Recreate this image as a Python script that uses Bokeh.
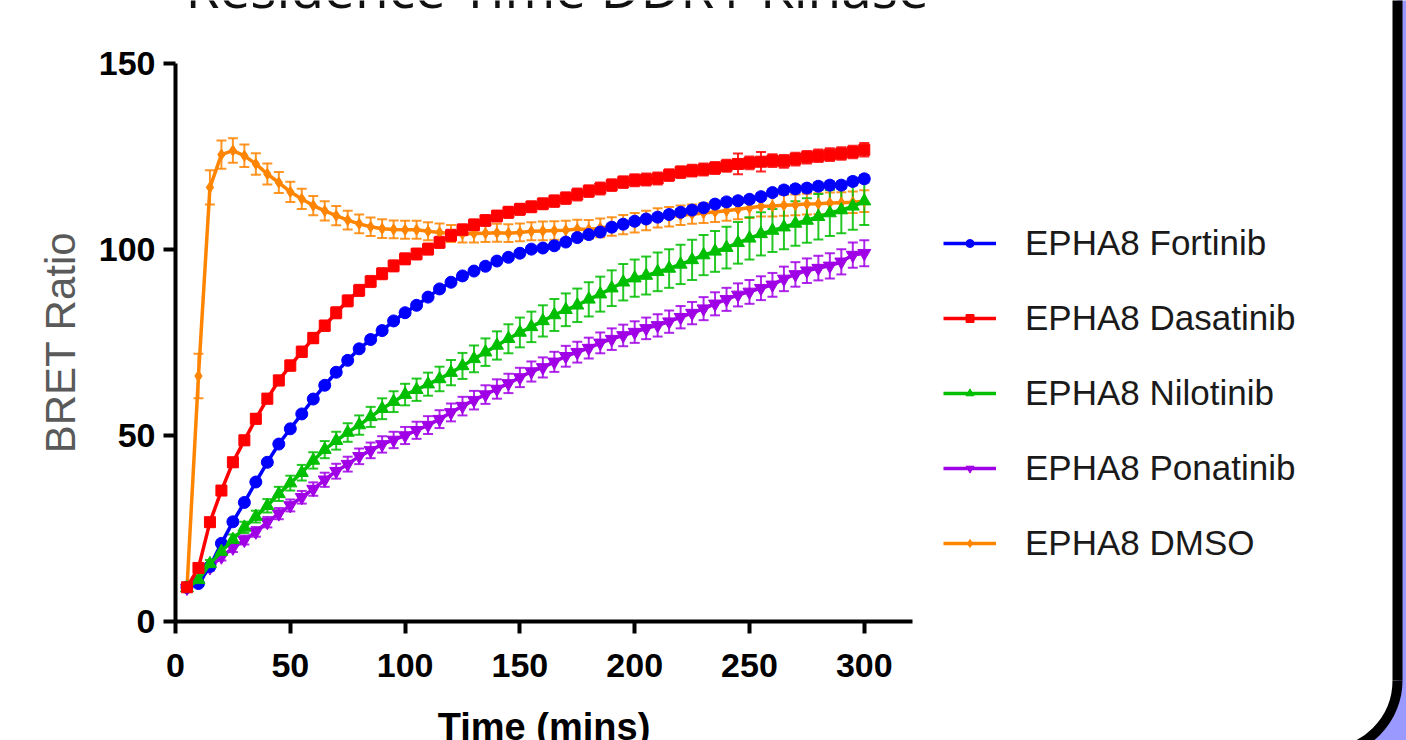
import math
from bokeh.plotting import figure
from bokeh.models import (Range1d, Whisker, TeeHead, ColumnDataSource, Legend,
                          LegendItem, Label, FixedTicker)
from bokeh.embed import file_html
from bokeh.resources import INLINE

title_text = "Residence Time DDR1 Kinase"
x_label = "Time (mins)"
y_label = "BRET Ratio"
x_ticks = [0, 50, 100, 150, 200, 250, 300]
y_ticks = [0, 50, 100, 150]

time_min = [5, 10, 15, 20, 25, 30, 35, 40, 45, 50, 55, 60, 65, 70, 75, 80, 85, 90, 95, 100,
            105, 110, 115, 120, 125, 130, 135, 140, 145, 150, 155, 160, 165, 170, 175, 180,
            185, 190, 195, 200, 205, 210, 215, 220, 225, 230, 235, 240, 245, 250, 255, 260,
            265, 270, 275, 280, 285, 290, 295, 300]

fortinib = [9.2, 10.2, 14.8, 21.0, 26.8, 32.0, 37.5, 42.8, 47.7, 51.8,
            55.8, 59.8, 63.5, 67.0, 70.2, 73.3, 75.8, 78.2, 80.8, 83.0,
            85.0, 87.2, 89.4, 91.2, 92.9, 94.2, 95.5, 96.9, 97.9, 99.0,
            100.1, 100.4, 101.0, 102.0, 103.2, 104.0, 104.7, 106.0, 106.8, 107.6,
            108.2, 108.7, 109.4, 110.0, 110.6, 111.2, 112.2, 112.8, 113.1, 113.5,
            114.2, 115.3, 116.0, 116.3, 116.5, 117.0, 117.3, 117.3, 118.3, 119.0]
fortinib_err = [0.4, 0.5, 0.6, 0.6, 0.7, 0.7, 0.7, 0.7, 0.7, 0.7,
                0.7, 0.7, 0.8, 0.8, 0.8, 0.8, 0.8, 0.8, 0.8, 0.8,
                0.8, 0.8, 0.8, 0.8, 0.8, 0.8, 0.8, 0.8, 0.8, 0.8,
                0.8, 0.8, 0.8, 0.8, 0.8, 0.9, 0.9, 0.9, 0.9, 0.9,
                0.9, 0.9, 0.9, 0.9, 0.9, 0.9, 0.9, 0.9, 0.9, 0.9,
                0.9, 0.9, 1.0, 1.0, 1.0, 1.0, 1.0, 1.0, 1.0, 1.0]

dasatinib = [9.2, 14.4, 26.7, 35.2, 42.8, 48.7, 54.5, 59.9, 64.8, 68.8,
             72.5, 76.2, 79.5, 83.0, 86.2, 89.0, 91.4, 93.5, 95.6, 97.5,
             98.8, 100.1, 101.9, 103.8, 105.3, 106.6, 107.8, 109.0, 110.0, 110.8,
             111.5, 112.3, 113.0, 113.8, 114.8, 115.7, 116.4, 117.3, 118.1, 118.6,
             118.8, 119.1, 120.0, 120.8, 121.2, 121.5, 121.9, 122.5, 123.0, 123.3,
             123.6, 123.9, 123.7, 124.3, 124.8, 125.2, 125.5, 125.8, 126.2, 126.8]
dasatinib_err = [0.5, 0.8, 1.0, 1.1, 1.2, 1.2, 1.3, 1.3, 1.3, 1.4,
                 1.4, 1.4, 1.4, 1.5, 1.5, 1.5, 1.5, 1.5, 1.5, 1.5,
                 1.5, 1.5, 1.5, 1.5, 1.5, 1.5, 1.5, 1.5, 1.5, 1.5,
                 1.5, 1.5, 1.6, 1.6, 1.6, 1.6, 1.6, 1.6, 1.6, 1.6,
                 1.6, 1.6, 1.6, 1.6, 1.6, 1.6, 1.6, 1.6, 2.8, 1.7,
                 2.6, 1.7, 1.7, 1.7, 1.7, 1.7, 1.7, 1.7, 1.7, 1.8]

nilotinib = [9.0, 11.2, 15.5, 18.8, 22.0, 25.3, 28.2, 31.1, 34.3, 37.2,
             40.0, 43.3, 46.2, 48.6, 50.8, 52.8, 55.0, 57.2, 59.1, 61.0,
             62.3, 63.8, 65.2, 66.9, 68.7, 70.6, 72.4, 74.2, 76.0, 77.7,
             79.2, 80.8, 82.4, 83.8, 85.0, 86.6, 88.0, 89.6, 91.2, 92.3,
             93.0, 94.0, 94.9, 96.0, 97.2, 98.5, 99.5, 100.5, 101.8, 103.0,
             104.2, 105.1, 106.0, 107.0, 107.8, 108.8, 109.8, 110.6, 111.6, 113.0]
nilotinib_err = [0.4, 0.8, 1.0, 1.2, 1.4, 1.5, 1.6, 1.8, 1.9, 2.0,
                 2.1, 2.2, 2.3, 2.4, 2.5, 2.6, 2.7, 2.8, 2.8, 2.9,
                 3.0, 3.1, 3.3, 3.4, 3.5, 3.6, 3.7, 3.8, 3.9, 4.0,
                 4.1, 4.2, 4.3, 4.4, 4.5, 4.6, 4.7, 4.8, 4.9, 5.0,
                 5.1, 5.2, 5.2, 5.3, 5.4, 5.4, 5.5, 5.6, 5.6, 5.7,
                 5.8, 5.8, 5.9, 6.0, 6.0, 6.1, 6.2, 6.2, 6.3, 6.4]

ponatinib = [9.0, 11.0, 14.5, 17.4, 19.8, 21.9, 24.1, 26.7, 29.0, 31.2,
             33.4, 35.6, 38.1, 40.4, 42.3, 44.4, 46.0, 47.6, 48.8, 50.0,
             51.4, 52.8, 54.4, 56.2, 57.9, 59.5, 61.0, 62.5, 64.0, 65.6,
             67.2, 68.3, 69.8, 71.3, 72.4, 73.5, 74.9, 75.9, 76.9, 77.8,
             78.8, 79.6, 80.6, 81.8, 82.9, 84.1, 85.4, 86.6, 87.8, 88.6,
             89.6, 90.5, 92.1, 93.3, 94.3, 95.0, 95.6, 96.7, 98.5, 99.0]
ponatinib_err = [0.4, 0.6, 0.8, 1.0, 1.1, 1.2, 1.3, 1.4, 1.5, 1.6,
                 1.7, 1.8, 1.9, 2.0, 2.0, 2.1, 2.1, 2.2, 2.2, 2.3,
                 2.3, 2.4, 2.4, 2.4, 2.5, 2.5, 2.5, 2.6, 2.6, 2.6,
                 2.7, 2.7, 2.7, 2.8, 2.8, 2.8, 2.8, 2.9, 2.9, 2.9,
                 2.9, 3.0, 3.0, 3.0, 3.0, 3.1, 3.1, 3.1, 3.1, 3.2,
                 3.2, 3.2, 3.3, 3.3, 3.3, 3.3, 3.4, 3.4, 3.4, 3.5]

dmso = [9.0, 66.0, 116.7, 125.5, 126.6, 125.2, 123.0, 120.3, 118.0, 115.5,
        113.6, 111.8, 110.4, 109.1, 107.9, 106.9, 106.1, 105.6, 105.4, 105.3,
        105.3, 104.9, 104.6, 104.3, 104.2, 104.3, 104.4, 104.5, 104.4, 104.6,
        104.9, 105.0, 105.1, 105.2, 105.5, 105.4, 105.8, 106.2, 106.7, 107.2,
        107.8, 108.5, 108.8, 109.2, 109.5, 109.8, 110.1, 110.4, 110.8, 111.2,
        111.6, 111.7, 111.9, 112.0, 112.2, 112.3, 112.5, 112.6, 112.7, 113.0]
dmso_err = [0.6, 6.0, 4.6, 3.8, 3.3, 3.0, 2.9, 2.8, 2.8, 2.7,
            2.7, 2.6, 2.6, 2.6, 2.5, 2.5, 2.5, 2.5, 2.4, 2.4,
            2.4, 2.4, 2.4, 2.3, 2.3, 2.4, 2.4, 2.4, 2.4, 2.4,
            2.4, 2.5, 2.5, 2.5, 2.5, 2.5, 2.5, 2.5, 2.6, 2.6,
            2.6, 2.6, 2.6, 2.6, 2.6, 2.7, 2.7, 2.7, 2.7, 2.7,
            2.7, 2.8, 2.8, 2.8, 2.8, 2.8, 2.8, 2.8, 2.9, 2.9]

series_names = ["EPHA8 Fortinib", "EPHA8 Dasatinib", "EPHA8 Nilotinib",
                "EPHA8 Ponatinib", "EPHA8 DMSO"]
series_values = [fortinib, dasatinib, nilotinib, ponatinib, dmso]
series_errors = [fortinib_err, dasatinib_err, nilotinib_err, ponatinib_err, dmso_err]
series_colors = ["#0000FF", "#FF0000", "#00BE00", "#A000E6", "#FF8400"]
series_markers = ["circle", "square", "triangle", "inverted_triangle", "diamond"]
marker_sizes = [12, 11, 13, 13, 11]

FONT = "Liberation Sans"

# ---- layout geometry (pixels) ----
W, H = 1406, 740
AX_X0, AX_X1 = 175, 912        # pixel span of x axis (0 .. x_axis_end)
AX_Y0, AX_Y1 = 621, 63         # pixel span of y axis (0 .. 150)
x_axis_end = 321
y_axis_end = 150
sx = (AX_X1 - AX_X0) / x_axis_end
sy = (AX_Y0 - AX_Y1) / y_axis_end


def px_x(px):
    return (px - AX_X0) / sx


def px_y(py):
    return (AX_Y0 - py) / sy


p = figure(width=W, height=H, output_backend="svg", toolbar_location=None,
           x_range=Range1d(px_x(0), px_x(W)), y_range=Range1d(px_y(H), px_y(0)),
           min_border=0, min_border_left=0, min_border_right=0,
           min_border_top=0, min_border_bottom=0)
p.outline_line_color = None
p.xgrid.visible = False
p.ygrid.visible = False
p.background_fill_color = "white"
p.border_fill_color = "white"

# ---- slide frame decoration at the right edge (black rounded border, lavender outside) ----
LAV = "#9999FF"
BORDER_X, CORNER_Y, RAD = 1397, 680, 72
p.quad(left=[px_x(BORDER_X), px_x(BORDER_X - RAD + 3)], right=[px_x(W + 20), px_x(W + 20)],
       top=[px_y(-20), px_y(CORNER_Y + 3)], bottom=[px_y(H + 20), px_y(H + 20)],
       fill_color=LAV, line_color=None)
p.wedge(x=[px_x(BORDER_X - RAD)], y=[px_y(CORNER_Y)], radius=RAD, radius_units="screen",
        start_angle=-math.pi / 2, end_angle=0, direction="anticlock",
        fill_color="white", line_color=None)
p.arc(x=[px_x(BORDER_X - RAD)], y=[px_y(CORNER_Y)], radius=RAD, radius_units="screen",
      start_angle=-math.pi / 2, end_angle=0, direction="anticlock",
      line_color="black", line_width=10)
p.segment(x0=[px_x(BORDER_X)], y0=[px_y(-20)], x1=[px_x(BORDER_X)], y1=[px_y(CORNER_Y)],
          line_color="black", line_width=10)

for ax in (p.xaxis[0], p.yaxis[0]):
    ax.fixed_location = 0
    ax.axis_line_width = 4
    ax.axis_line_color = "black"
    ax.major_tick_line_width = 4
    ax.major_tick_line_color = "black"
    ax.major_tick_out = 12
    ax.major_tick_in = 0
    ax.minor_tick_line_color = None
    ax.major_label_text_font = FONT
    ax.major_label_text_font_style = "bold"
    ax.major_label_text_font_size = "34px"
    ax.major_label_text_color = "black"

p.xaxis[0].bounds = (0, x_axis_end)
p.yaxis[0].bounds = (0, y_axis_end)
p.xaxis[0].ticker = FixedTicker(ticks=x_ticks)
p.yaxis[0].ticker = FixedTicker(ticks=y_ticks)
p.xaxis[0].major_label_standoff = 20
p.yaxis[0].major_label_standoff = 8

draw_order = [4, 3, 0, 2, 1]
renderers = {}
for i in draw_order:
    src = ColumnDataSource(dict(
        t=time_min, v=series_values[i],
        lo=[a - b for a, b in zip(series_values[i], series_errors[i])],
        up=[a + b for a, b in zip(series_values[i], series_errors[i])]))
    c = series_colors[i]
    w = Whisker(source=src, base="t", upper="up", lower="lo",
                line_color=c, line_width=2, line_alpha=0.85,
                upper_head=TeeHead(size=10, line_color=c, line_width=2, line_alpha=0.85),
                lower_head=TeeHead(size=10, line_color=c, line_width=2, line_alpha=0.85))
    p.add_layout(w)
    ln = p.line("t", "v", source=src, line_color=c, line_width=3.5)
    sc = p.scatter("t", "v", source=src, marker=series_markers[i],
                   size=marker_sizes[i], fill_color=c, line_color=c)
    renderers[i] = [ln, sc]

items = [LegendItem(label=series_names[i], renderers=renderers[i]) for i in range(5)]
legend = Legend(items=items, location=(943, 177), orientation="vertical",
                glyph_width=53, glyph_height=20, label_height=40, spacing=35,
                label_standoff=29, padding=10, margin=0,
                label_text_font=FONT, label_text_font_size="35px",
                label_text_color="#1a1a1a", border_line_color=None,
                background_fill_alpha=0)
p.add_layout(legend)

ylab = Label(x=px_x(60), y=y_axis_end / 2, text=y_label, angle=90, angle_units="deg",
             text_align="center", text_baseline="alphabetic", text_font=FONT,
             text_font_size="42px", text_color="#5a5a5a")
p.add_layout(ylab)

xlab = Label(x=x_axis_end / 2, y=px_y(705), text=x_label,
             text_align="center", text_baseline="top", text_font=FONT,
             text_font_style="bold", text_font_size="38px", text_color="black")
p.add_layout(xlab)

ttl = Label(x=px_x(185), y=px_y(-14), text=title_text, text_align="left",
            text_baseline="alphabetic", text_font="Open Sans",
            text_font_size="55px", text_color="#111111")
p.add_layout(ttl)

open("out.html", "w").write(file_html(p, INLINE))
